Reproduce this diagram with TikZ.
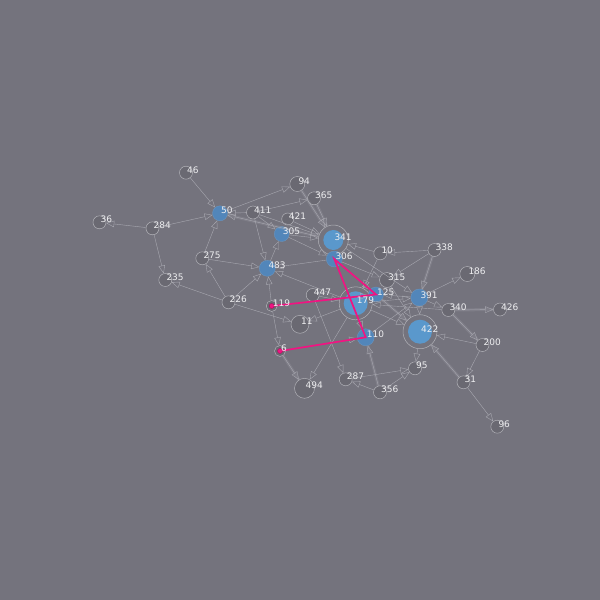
\documentclass[tikz,border=0pt]{standalone}
\usepackage{fontspec}
\setmainfont{DejaVu Sans}
\usetikzlibrary{arrows.meta}
\definecolor{bgc}{RGB}{116,115,125}
\definecolor{dkfill}{RGB}{106,105,114}
\definecolor{ringc}{RGB}{178,178,184}
\definecolor{bluec}{RGB}{82,134,186}
\definecolor{bluel}{RGB}{90,152,204}
\definecolor{edgec}{RGB}{168,168,176}
\definecolor{labc}{RGB}{238,238,240}
\definecolor{pinkc}{RGB}{240,20,130}
\begin{document}
\begin{tikzpicture}[x=1pt,y=-1pt,
  dk/.style={circle,draw=ringc,line width=0.5pt,fill=dkfill,inner sep=0pt,minimum size=#1},
  bl/.style={circle,draw=bluec!85!white,line width=0.3pt,fill=bluec,inner sep=0pt,minimum size=#1},
  blt/.style={circle,draw=none,fill=bluel,inner sep=0pt,minimum size=#1},
  ringnode/.style={circle,draw=ringc,line width=0.5pt,inner sep=0pt,minimum size=#1},
  lab/.style={anchor=base west,text=labc,font=\fontsize{9}{9}\selectfont,inner sep=0pt},
  ed/.style={draw=edgec,line width=0.4pt,-{Triangle[open,length=8pt,width=6.5pt]}},
  band/.style={draw=edgec,line width=3pt,opacity=0.22},
  hop/.style={draw=pinkc,line width=1.7pt,line cap=round},
  hopdot/.style={circle,fill=pinkc,draw=pinkc!70!black,line width=0.4pt,inner sep=0pt,minimum size=5pt}]
\fill[bgc] (0,0) rectangle (600,600);
\useasboundingbox (0,0) rectangle (600,600);
% nodes
\node[dk=13pt] (n46) at (186,172.7) {};
\node[dk=13pt] (n36) at (99.5,222.3) {};
\node[dk=13pt] (n284) at (152.5,228.3) {};
\node[bl=15pt] (n50) at (220,213.3) {};
\node[dk=13pt] (n411) at (253,212.5) {};
\node[dk=15pt] (n94) at (297.3,184) {};
\node[dk=13pt] (n365) at (314,198.3) {};
\node[dk=12pt] (n421) at (287.7,219) {};
\node[bl=15pt] (n305) at (281.7,234) {};
\node[ringnode=30pt] (n341) at (333.3,240) {};
\node[blt=20pt] (c341) at (333.3,240) {};
\node[bl=16pt] (n306) at (334.3,259) {};
\node[dk=13pt] (n10) at (380.3,253.3) {};
\node[dk=13pt] (n338) at (434.5,250) {};
\node[dk=15pt] (n186) at (467.3,274) {};
\node[dk=15pt] (n315) at (387,280) {};
\node[dk=13pt] (n275) at (202.3,258.3) {};
\node[bl=16pt] (n483) at (267.3,268.3) {};
\node[dk=13pt] (n235) at (165.3,280) {};
\node[dk=13pt] (n226) at (228.5,302.3) {};
\node[dk=11pt] (n119) at (271.7,306) {};
\node[dk=13pt] (n447) at (312.7,295) {};
\node[ringnode=33pt] (n179) at (355.7,303.3) {};
\node[blt=24pt] (c179) at (355.7,303.3) {};
\node[bl=15pt] (n125) at (376,294.5) {};
\node[bl=17pt] (n391) at (419.3,297.5) {};
\node[dk=13pt] (n340) at (448.3,310) {};
\node[dk=13pt] (n426) at (500,309.5) {};
\node[dk=18pt] (n11) at (300,324.3) {};
\node[ringnode=34pt] (n422) at (420,331.7) {};
\node[blt=24pt] (c422) at (420,331.7) {};
\node[bl=17pt] (n110) at (365.7,337.3) {};
\node[dk=13pt] (n200) at (482.5,345) {};
\node[dk=11pt] (n6) at (280,351) {};
\node[dk=13pt] (n95) at (415,368.3) {};
\node[dk=13pt] (n31) at (463.5,382.3) {};
\node[dk=13pt] (n287) at (345.7,379.3) {};
\node[dk=13pt] (n356) at (380,392.3) {};
\node[dk=20pt] (n494) at (304.5,388.3) {};
\node[dk=13pt] (n96) at (497.3,426.7) {};
% heavy bands
\foreach \a/\b in {341/50,94/341,365/341,338/391,340/426,340/200,31/422,356/110,6/494,125/422}
  \draw[band] (n\a) -- (n\b);
% edges
\foreach \a/\b in {46/50,284/50,284/36,284/235,275/50,275/483,226/275,226/235,226/483,
  411/50,341/50,50/94,411/365,411/305,411/483,411/341,483/305,305/341,421/341,94/341,
  365/341,10/341,338/10,338/391,338/315,391/186,391/340,340/426,340/200,200/422,200/31,
  31/422,31/96,422/95,356/95,287/95,356/287,356/110,447/287,179/494,6/494,226/11,179/11,
  119/483,119/6,6/110,119/125,306/125,306/110,447/179,179/483,306/483,305/306,306/315,
  110/391,391/422,125/422,179/422,391/125,340/179,10/179,315/422,341/391,179/391}
  \draw[ed] (n\a) -- (n\b);
% highlighted path
\draw[hop] (n119.center) -- (n125.center) -- (n306.center) -- (n110.center) -- (n6.center);
\node[hopdot] (d119) at (n119.center) {};
\node[hopdot] (d6) at (n6.center) {};
% labels
\foreach \n/\x/\y in {46/186/172.7,36/99.5/222.3,284/152.5/228.3,50/220/213.3,411/253/212.5,
  94/297.3/184,365/314/198.3,421/287.7/219,305/281.7/234,341/333.3/240,306/334.3/259,
  10/380.3/253.3,338/434.5/250,186/467.3/274,315/387/280,275/202.3/258.3,483/267.3/268.3,
  235/165.3/280,226/228.5/302.3,119/271.7/306,447/312.7/295,179/355.7/303.3,125/376/294.5,
  391/419.3/297.5,340/448.3/310,426/500/309.5,11/300/324.3,422/420/331.7,110/365.7/337.3,
  200/482.5/345,6/280/351,95/415/368.3,31/463.5/382.3,287/345.7/379.3,356/380/392.3,
  494/304.5/388.3,96/497.3/426.7}
  \node[lab] (l\n) at (\x+1,\y+0.5) {\n};
\end{tikzpicture}
\end{document}
